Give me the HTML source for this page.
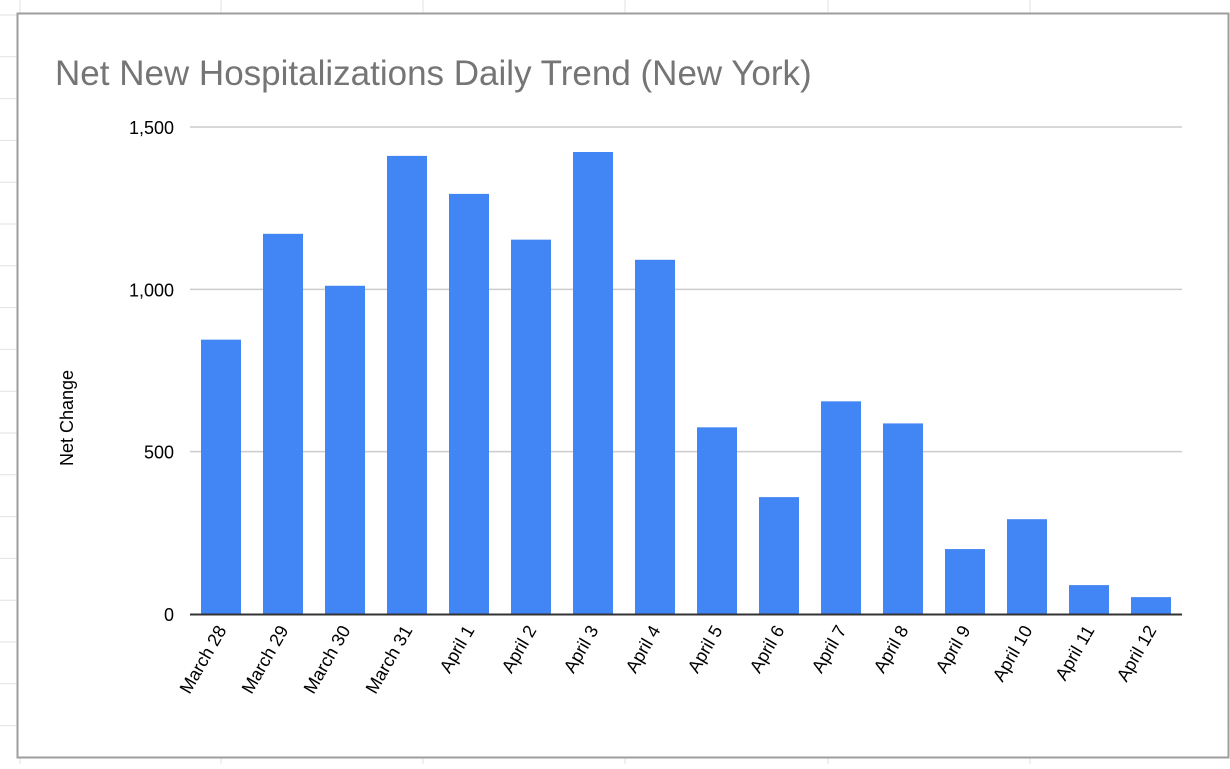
<!DOCTYPE html>
<html><head><meta charset="utf-8"><style>
body{margin:0;width:1230px;height:764px;overflow:hidden;background:#fff;font-family:"Liberation Sans",Arial,sans-serif}
</style></head><body>
<svg width="1230" height="764" xmlns="http://www.w3.org/2000/svg">
<g id="sheet" stroke="#e2e2e2" stroke-width="1"></g>
<rect x="17.5" y="13.5" width="1211" height="744" fill="#fff" stroke="#9e9e9e" stroke-width="2"/>
<text x="55" y="85" font-size="35" fill="#757575">Net New Hospitalizations Daily Trend (New York)</text>
<text transform="translate(73,418) rotate(-90)" text-anchor="middle" font-size="18" fill="#000">Net Change</text>
<g id="grid"></g><g id="bars"></g><g id="xl"></g>
</svg>
<script>
const categories=["March 28","March 29","March 30","March 31","April 1","April 2","April 3","April 4","April 5","April 6","April 7","April 8","April 9","April 10","April 11","April 12"];
const values=[845,1171,1011,1411,1294,1153,1423,1091,575,360,655,587,200,292,89,52];
const yTicks=[0,500,1000,1500];
const yTickLabels=["0","500","1,000","1,500"];
const NS="http://www.w3.org/2000/svg";
const x0=190,x1=1182,yBase=614,yTop=127,yMax=1500;
const y=v=>yBase-(v/yMax)*(yBase-yTop);
const step=(x1-x0)/categories.length;
const xc=i=>x0+step*(i+0.5);
function mk(t,a,p){const e=document.createElementNS(NS,t);for(const k in a)e.setAttribute(k,a[k]);p.appendChild(e);return e;}
const sheet=document.getElementById('sheet');
[20,221,423,625,828,1030].forEach(x=>{const l=mk('line',{x1:x,x2:x,y1:0,y2:764},sheet);});
for(let yy=15;yy<764;yy+=41.8){mk('line',{x1:0,x2:1230,y1:yy,y2:yy},sheet);}
const g=document.getElementById('grid');
yTicks.forEach((t,i)=>{
 if(t>0){const l=mk('line',{x1:x0,x2:x1,y1:y(t),y2:y(t),stroke:'#cccccc','stroke-width':1.5},g);
 
 }
 const tx=mk('text',{x:174,y:y(t)+7,'text-anchor':'end','font-size':18,fill:'#000'},g);
 tx.textContent=yTickLabels[i];
 
 
});
const b=document.getElementById('bars'),xl=document.getElementById('xl');
values.forEach((v,i)=>{
 const r=mk('rect',{x:xc(i)-20,y:y(v),width:40,height:yBase-y(v),fill:'#4285f4'},b);
 
 
 const t=mk('text',{transform:`translate(${xc(i)+6},${yBase+16}) rotate(-60)`,'text-anchor':'end','font-size':18,fill:'#000'},xl);
 t.textContent=categories[i];
 
 
});
const ax=mk('line',{x1:x0,x2:x1,y1:yBase+0.5,y2:yBase+0.5,stroke:'#333','stroke-width':2},b);


</script>
</body></html>
